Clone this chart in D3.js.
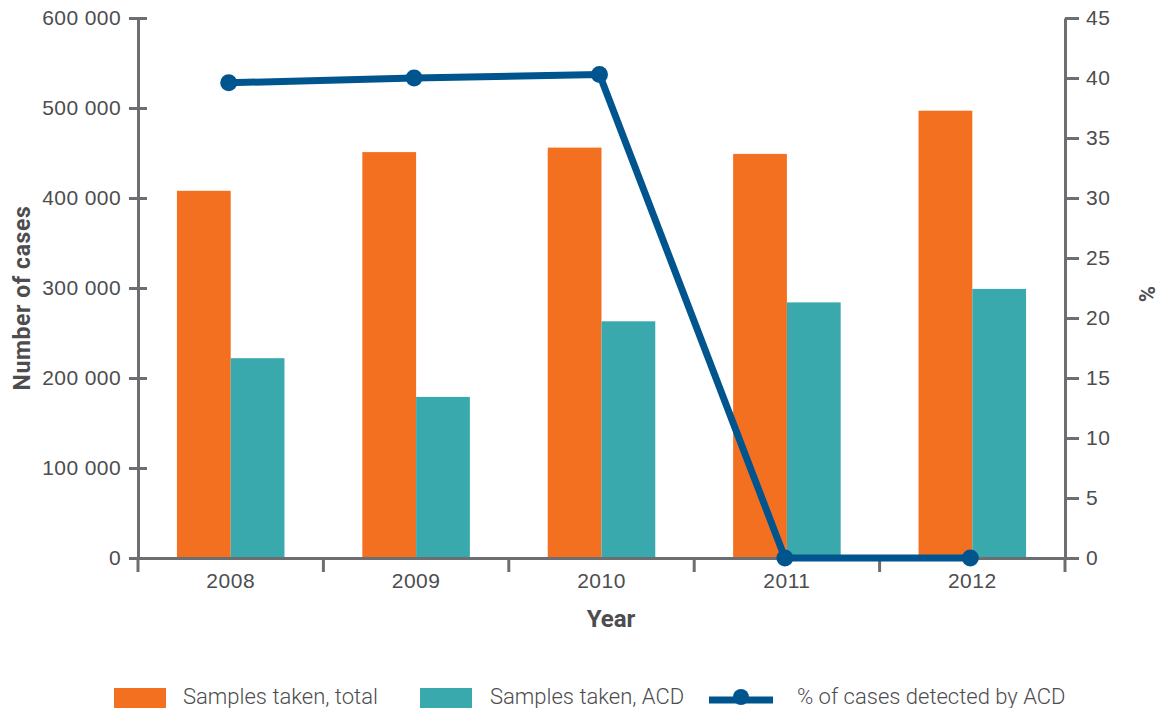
<!DOCTYPE html>
<html>
<head>
<meta charset="utf-8">
<script src="https://cdn.jsdelivr.net/npm/d3@7"></script>
<style>
  html, body { margin: 0; padding: 0; background: #fff; }
  svg { display: block; font-family: Roboto, "Noto Sans", sans-serif; }
</style>
</head>
<body>
<svg id="chart" width="1161" height="708"></svg>
<script>
// Samples taken and share of cases detected by active case detection (ACD)
const years = ["2008", "2009", "2010", "2011", "2012"];
const samplesTotal = [408000, 451000, 456000, 449000, 497000];
const samplesACD = [222000, 179000, 263000, 284000, 299000];
const pctDetectedACD = [39.6, 40.0, 40.3, 0, 0];
const leftTicks = [0, 100000, 200000, 300000, 400000, 500000, 600000];
const rightTicks = [0, 5, 10, 15, 20, 25, 30, 35, 40, 45];
const seriesNames = ["Samples taken, total", "Samples taken, ACD", "% of cases detected by ACD"];

const colors = { total: "#f37021", acd: "#3aa9ad", line: "#00558f", axis: "#6d6e71", text: "#4d4d4f" };

const svg = d3.select("#chart");
const plotLeft = 138, plotRight = 1065, plotTop = 18, plotBottom = 558;

const x = d3.scaleBand().domain(years).range([plotLeft, plotRight]).padding(0);
const xs = d3.scaleBand().domain(["total", "acd"])
  .range([x.bandwidth() * 0.21, x.bandwidth() * 0.79]).padding(0);
const yL = d3.scaleLinear().domain([0, 600000]).range([plotBottom, plotTop]);
const yR = d3.scaleLinear().domain([0, 45]).range([plotBottom, plotTop]);

const fmt = v => d3.format(",")(v).replace(/,/g, " ");

// Bars
const groups = svg.append("g").selectAll("g").data(years).join("g")
  .attr("transform", d => `translate(${x(d)},0)`);
groups.append("rect")
  .attr("x", xs("total")).attr("width", xs.bandwidth())
  .attr("y", (d, i) => yL(samplesTotal[i]))
  .attr("height", (d, i) => plotBottom - yL(samplesTotal[i]))
  .attr("fill", colors.total);
groups.append("rect")
  .attr("x", xs("acd")).attr("width", xs.bandwidth())
  .attr("y", (d, i) => yL(samplesACD[i]))
  .attr("height", (d, i) => plotBottom - yL(samplesACD[i]))
  .attr("fill", colors.acd);

// Axes
function styleAxis(g) {
  g.selectAll(".domain").attr("stroke", colors.axis).attr("stroke-width", 3);
  g.selectAll(".tick line").attr("stroke", colors.axis).attr("stroke-width", 3);
  g.selectAll("text").attr("fill", colors.text).style("font-size", "21px").style("font-weight", 300);
}

const axL = svg.append("g").attr("transform", `translate(${plotLeft},0)`)
  .call(d3.axisLeft(yL).tickValues(leftTicks).tickFormat(fmt).tickSizeInner(9).tickSizeOuter(0).tickPadding(8))
  .call(styleAxis);
axL.selectAll(".tick line").attr("x2", 9).attr("x1", -9);
axL.selectAll(".tick text").style("letter-spacing", "0.4px");

const axR = svg.append("g").attr("transform", `translate(${plotRight},0)`)
  .call(d3.axisRight(yR).tickValues(rightTicks).tickSizeInner(14).tickSizeOuter(0).tickPadding(7))
  .call(styleAxis);
axR.selectAll(".tick text").style("letter-spacing", "0.5px");

const axB = svg.append("g").attr("transform", `translate(0,${plotBottom})`)
  .call(d3.axisBottom(x).tickSize(0).tickPadding(15))
  .call(styleAxis);
axB.selectAll(".tick text").style("letter-spacing", "0.5px");
// Category separators on the baseline
axB.append("g").selectAll("line").data(d3.range(years.length + 1)).join("line")
  .attr("x1", i => plotLeft + i * x.step()).attr("x2", i => plotLeft + i * x.step())
  .attr("y1", 0).attr("y2", 14)
  .attr("stroke", colors.axis).attr("stroke-width", 3);

// Axis titles
svg.append("text").attr("transform", `translate(30,298) rotate(-90)`)
  .attr("text-anchor", "middle").attr("fill", colors.text)
  .style("font-size", "23px").style("font-weight", 700).style("letter-spacing", "0.6px")
  .text("Number of cases");
svg.append("text").attr("transform", `translate(1155,294) rotate(-90)`)
  .attr("text-anchor", "middle").attr("fill", colors.text)
  .style("font-size", "22px").style("font-weight", 700).text("%");
svg.append("text").attr("x", 611).attr("y", 627)
  .attr("text-anchor", "middle").attr("fill", colors.text)
  .style("font-size", "24px").style("font-weight", 700).text("Year");

// Line series
const cx = d => x(d) + x.bandwidth() / 2 - 2;
const line = d3.line().x(d => cx(d.year)).y(d => yR(d.v));
const pts = years.map((y, i) => ({ year: y, v: pctDetectedACD[i] }));
svg.append("path").datum(pts).attr("d", line)
  .attr("fill", "none").attr("stroke", colors.line).attr("stroke-width", 7).attr("stroke-linejoin", "round");
svg.append("g").selectAll("circle").data(pts).join("circle")
  .attr("cx", d => cx(d.year)).attr("cy", d => yR(d.v)).attr("r", 8.5)
  .attr("fill", colors.line);

// Legend
const lg = svg.append("g");
lg.append("rect").attr("x", 114).attr("y", 688).attr("width", 52).attr("height", 22).attr("fill", colors.total);
lg.append("text").attr("x", 183).attr("y", 704).text(seriesNames[0]);
lg.append("rect").attr("x", 420).attr("y", 688).attr("width", 52).attr("height", 22).attr("fill", colors.acd);
lg.append("text").attr("x", 490).attr("y", 704).text(seriesNames[1]);
lg.append("line").attr("x1", 709).attr("x2", 773).attr("y1", 700).attr("y2", 700)
  .attr("stroke", colors.line).attr("stroke-width", 7);
lg.append("circle").attr("cx", 741).attr("cy", 697).attr("r", 8).attr("fill", colors.line);
lg.append("text").attr("x", 797).attr("y", 704).text(seriesNames[2]);
lg.selectAll("text").attr("fill", colors.text).style("font-size", "22px").style("font-weight", 300);
</script>
</body>
</html>
